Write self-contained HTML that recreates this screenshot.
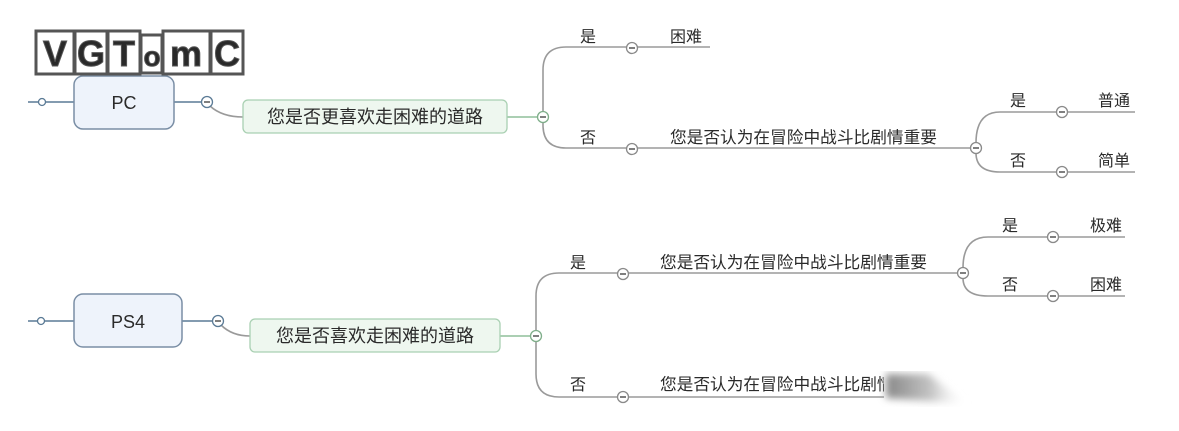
<!DOCTYPE html>
<html><head><meta charset="utf-8"><style>
html,body{margin:0;padding:0;background:#fff;}
svg{display:block;}
text{font-family:"Liberation Sans","Noto Sans CJK SC",sans-serif;fill:#2a2a2a;}
</style></head><body>
<svg width="1179" height="431" viewBox="0 0 1179 431" xmlns="http://www.w3.org/2000/svg">
<defs>
<linearGradient id="bl" x1="0" x2="1" y1="0" y2="0">
<stop offset="0" stop-color="#888"/><stop offset="0.55" stop-color="#c4c4c4"/><stop offset="1" stop-color="#fff" stop-opacity="0"/>
</linearGradient>
<filter id="blur"><feGaussianBlur stdDeviation="4"/></filter>
</defs>
<g fill="none" stroke="#9a9a9a" stroke-width="1.6">
<path d="M28 102 H74" stroke="#5a7a95"/>
<path d="M174 102 H202" stroke="#5a7a95"/>
<path d="M210 106 Q222 117 243 117"/>
<path d="M507 117 H538" stroke="#8fbf9a"/>
<path d="M543 112 V70 Q543 47 566 47 H627"/>
<path d="M543 122 V125 Q543 148 566 148 H627"/>
<path d="M637 47 H710"/>
<path d="M637 148 H971"/>
<path d="M976 143 Q976 112 1000 112 H1057"/>
<path d="M976 153 Q976 172 1000 172 H1057"/>
<path d="M1067 112 H1135"/>
<path d="M1067 172 H1135"/>
<path d="M28 321 H74" stroke="#5a7a95"/>
<path d="M182 321 H213" stroke="#5a7a95"/>
<path d="M221 325 Q232 336 250 336"/>
<path d="M500 336 H531" stroke="#8fbf9a"/>
<path d="M536 331 V296 Q536 273 559 273 H618"/>
<path d="M536 341 V374 Q536 397 559 397 H618"/>
<path d="M628 273 H958"/>
<path d="M628 397 H900"/>
<path d="M963 268 Q963 237 988 237 H1048"/>
<path d="M963 278 Q963 296 988 296 H1048"/>
<path d="M1058 237 H1125"/>
<path d="M1058 296 H1125"/>
</g>
<rect x="74" y="76" width="100" height="53" rx="9" fill="#eef3fb" stroke="#7a8ea5" stroke-width="1.5"/>
<text x="124" y="109" font-size="18" text-anchor="middle">PC</text>
<rect x="243" y="100" width="264" height="33" rx="5" fill="#eef7ef" stroke="#a9d0b2" stroke-width="1.3"/>
<text x="375" y="123" font-size="18" text-anchor="middle">您是否更喜欢走困难的道路</text>
<rect x="74" y="294" width="108" height="53" rx="9" fill="#eef3fb" stroke="#7a8ea5" stroke-width="1.5"/>
<text x="128" y="328" font-size="18" text-anchor="middle">PS4</text>
<rect x="250" y="319" width="250" height="33" rx="5" fill="#eef7ef" stroke="#a9d0b2" stroke-width="1.3"/>
<text x="375" y="342" font-size="18" text-anchor="middle">您是否喜欢走困难的道路</text>
<g fill="#fff" stroke="#8a8a8a" stroke-width="1.3">
<circle cx="42" cy="102" r="3.5" stroke="#5a7a95"/>
<circle cx="41" cy="321" r="3.5" stroke="#5a7a95"/>
<circle cx="207" cy="102" r="5.5" stroke="#5a7a95"/>
<circle cx="218" cy="321" r="5.5" stroke="#5a7a95"/>
<circle cx="543" cy="117" r="5.5" stroke="#7fae8a"/>
<circle cx="536" cy="336" r="5.5" stroke="#7fae8a"/>
<circle cx="632" cy="48" r="5.5"/>
<circle cx="632" cy="149" r="5.5"/>
<circle cx="976" cy="148" r="5.5"/>
<circle cx="1062" cy="112" r="5.5"/>
<circle cx="1062" cy="172" r="5.5"/>
<circle cx="623" cy="274" r="5.5"/>
<circle cx="623" cy="397" r="5.5"/>
<circle cx="963" cy="273" r="5.5"/>
<circle cx="1053" cy="237" r="5.5"/>
<circle cx="1053" cy="296" r="5.5"/>
</g>
<g stroke="#555" stroke-width="1.4">
<path d="M204 102h6M540 117h6M629 48h6M629 149h6M973 148h6M1059 112h6M1059 172h6M215 321h6M533 336h6M620 274h6M620 397h6M960 273h6M1050 237h6M1050 296h6"/>
</g>
<g font-size="16">
<text x="580" y="42">是</text>
<text x="670" y="42">困难</text>
<text x="580" y="143">否</text>
<text x="670" y="143" font-size="16.7">您是否认为在冒险中战斗比剧情重要</text>
<text x="1010" y="106">是</text>
<text x="1098" y="106">普通</text>
<text x="1010" y="166">否</text>
<text x="1098" y="166">简单</text>
<text x="570" y="268">是</text>
<text x="660" y="268" font-size="16.7">您是否认为在冒险中战斗比剧情重要</text>
<text x="1002" y="231">是</text>
<text x="1090" y="231">极难</text>
<text x="1002" y="290">否</text>
<text x="1090" y="290">困难</text>
<text x="570" y="390">否</text>
<text x="660" y="390" font-size="16.7">您是否认为在冒险中战斗比剧情重要</text>
</g>
<polygon points="884,370 935,370 980,408 884,404" fill="#fff"/>
<polygon points="886,374 928,374 968,404 886,398" fill="url(#bl)" filter="url(#blur)"/>
<g stroke="#555" stroke-width="3" fill="#fff">
<rect x="36" y="31" width="38" height="43"/>
<rect x="75" y="31" width="32" height="43"/>
<rect x="108" y="31" width="32" height="43"/>
<rect x="141" y="35" width="21" height="38"/>
<rect x="163" y="31" width="47" height="43"/>
<rect x="211" y="31" width="32" height="43"/>
</g>
<g font-family="Liberation Mono" font-weight="bold" font-size="36" text-anchor="middle" style="fill:#8a8a8a" stroke="#555" stroke-width="1">
<text x="55" y="66">V</text>
<text x="91" y="66">G</text>
<text x="124" y="66">T</text>
<text x="152" y="66" font-size="28">o</text>
<text x="186" y="66">m</text>
<text x="227" y="66">C</text>
</g>
</svg>
</body></html>
